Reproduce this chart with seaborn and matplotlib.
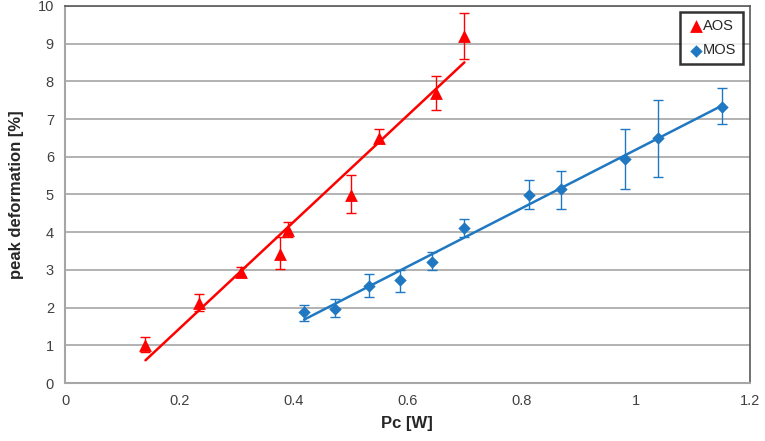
import numpy as np
import pandas as pd
import matplotlib
matplotlib.use("Agg")
import matplotlib.pyplot as plt
import seaborn as sns

# --- data ---
aos_pc = [0.141, 0.234, 0.309, 0.376, 0.390, 0.502, 0.550, 0.651, 0.700]
aos_def = [1.02, 2.11, 2.95, 3.42, 4.06, 4.99, 6.50, 7.70, 9.20]
aos_err_lo = [0.20, 0.19, 0.11, 0.40, 0.20, 0.49, 0.14, 0.45, 0.60]
aos_err_hi = [0.20, 0.26, 0.13, 0.45, 0.22, 0.53, 0.24, 0.45, 0.60]

mos_pc = [0.419, 0.473, 0.532, 0.587, 0.643, 0.699, 0.813, 0.869, 0.982, 1.039, 1.152]
mos_def = [1.87, 1.96, 2.58, 2.73, 3.22, 4.12, 4.99, 5.14, 5.93, 6.51, 7.33]
mos_err_lo = [0.23, 0.22, 0.29, 0.31, 0.22, 0.24, 0.38, 0.52, 0.79, 1.04, 0.47]
mos_err_hi = [0.21, 0.27, 0.30, 0.26, 0.26, 0.23, 0.39, 0.48, 0.80, 0.99, 0.50]

x_ticks = [0, 0.2, 0.4, 0.6, 0.8, 1, 1.2]
y_ticks = list(range(0, 11))

aos = pd.DataFrame({"Pc": aos_pc, "def": aos_def})
mos = pd.DataFrame({"Pc": mos_pc, "def": mos_def})

red = "#ff0000"
blue = "#1f78c1"

sns.set_style("white")
plt.rcParams["font.family"] = ["Liberation Sans Narrow", "Liberation Sans", "DejaVu Sans"]

fig = plt.figure(figsize=(7.65, 4.41), dpi=100)
ax = fig.add_axes([0.085, 0.1315, 0.895, 0.855])

# fitted trend lines
sns.regplot(data=aos, x="Pc", y="def", ci=None, scatter=False, ax=ax,
            line_kws={"color": red, "lw": 1.8})
sns.regplot(data=mos, x="Pc", y="def", ci=None, scatter=False, ax=ax,
            line_kws={"color": blue, "lw": 1.8})

# points with error bars
ax.errorbar(aos_pc, aos_def, yerr=[aos_err_lo, aos_err_hi], fmt="none",
            ecolor=red, elinewidth=1, capsize=3.5, capthick=1, zorder=3)
ax.errorbar(mos_pc, mos_def, yerr=[mos_err_lo, mos_err_hi], fmt="none",
            ecolor=blue, elinewidth=1, capsize=3.5, capthick=1, zorder=3)
sns.scatterplot(data=aos, x="Pc", y="def", marker="^", s=85, color=red,
                edgecolor=red, linewidth=0, ax=ax, zorder=4, label="AOS")
sns.scatterplot(data=mos, x="Pc", y="def", marker="D", s=40, color=blue,
                edgecolor=blue, linewidth=0, ax=ax, zorder=4, label="MOS")

ax.set_xlim(0, 1.2)
ax.set_ylim(0, 10)
ax.set_xticks(x_ticks)
ax.set_xticklabels([f"{t:g}" for t in x_ticks])
ax.set_yticks(y_ticks)
ax.yaxis.grid(True, color="#a6a6a6", lw=1.2)
ax.xaxis.grid(False)
ax.tick_params(axis="both", length=0, labelsize=10.5, colors="#404040", pad=8)

for side in ["left", "bottom"]:
    ax.spines[side].set_color("#a6a6a6")
    ax.spines[side].set_linewidth(1.5)
for side in ["top", "right"]:
    ax.spines[side].set_color("#595959")
    ax.spines[side].set_linewidth(1.2)

ax.set_xlabel("Pc [W]", fontsize=12, fontweight="bold", labelpad=6)
ax.set_ylabel("peak deformation [%]", fontsize=12, fontweight="bold", labelpad=10)

leg = ax.legend(loc="upper right", bbox_to_anchor=(0.990, 0.984), frameon=True,
                fancybox=False, fontsize=10.5, handletextpad=-0.1, borderpad=0.45,
                labelspacing=0.75, handlelength=1.2, borderaxespad=0)
leg.get_frame().set_edgecolor("black")
leg.get_frame().set_linewidth(1.8)

fig.savefig("out.png", dpi=100)
